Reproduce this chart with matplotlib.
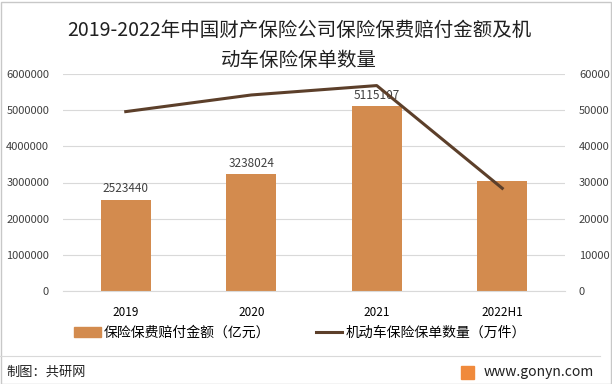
import matplotlib.pyplot as plt
from matplotlib.patches import Rectangle
from matplotlib.lines import Line2D

plt.rcParams['font.family'] = ['Noto Sans CJK SC', 'DejaVu Sans']

categories = ['2019', '2020', '2021', '2022H1']
payout = [2523440, 3238024, 5115107, 3040000]
payout_labels = ['2523440', '3238024', '5115107', '']
policies = [49600, 54200, 56800, 28400]

bar_color = '#D38B4E'
line_color = '#5C3F2A'
text_color = '#404040'

fig = plt.figure(figsize=(6.12, 3.84), dpi=100)
ax = fig.add_axes([63 / 612, 1 - 291 / 384, 502 / 612, 217 / 384])
x = list(range(len(categories)))
ax.bar(x, payout, width=0.4, color=bar_color, zorder=2)
for xi, v, lab in zip(x, payout, payout_labels):
    if lab:
        ax.text(xi, v + 120000, lab, ha='center', va='bottom', fontsize=8.5, color=text_color)
ax.set_xlim(-0.5, 3.5)
ax.set_ylim(0, 6000000)
ax.set_yticks(range(0, 6000001, 1000000))
ax.set_yticklabels([str(v) for v in range(0, 6000001, 1000000)])
ax.grid(axis='y', color='#D9D9D9', linewidth=0.8, zorder=0)
ax.set_xticks(x)
ax.set_xticklabels(categories)
for s in ['top', 'left', 'right']:
    ax.spines[s].set_visible(False)
ax.spines['bottom'].set_color('#D9D9D9')
ax.tick_params(axis='both', length=0, labelsize=8, colors=text_color)
ax.tick_params(axis='x', pad=11, labelsize=8.5, colors='#000000')
ax.tick_params(axis='y', pad=10)

ax2 = ax.twinx()
ax2.plot(x, policies, color=line_color, linewidth=2.2, zorder=3)
ax2.set_ylim(0, 60000)
ax2.set_yticks(range(0, 60001, 10000))
for s in ax2.spines.values():
    s.set_visible(False)
ax2.tick_params(axis='y', length=0, labelsize=8, colors=text_color, pad=10)

fig.text(299 / 612, 1 - 30 / 384, '2019-2022年中国财产保险公司保险保费赔付金额及机', ha='center', va='center',
         fontsize=14, color='#202020')
fig.text(299 / 612, 1 - 61 / 384, '动车保险保单数量', ha='center', va='center', fontsize=14, color='#202020')

handles = [Rectangle((0, 0), 1, 1, color=bar_color), Line2D([0], [0], color=line_color, linewidth=2.2)]
fig.legend(handles, ['保险保费赔付金额（亿元）', '机动车保险保单数量（万件）'], loc='center',
           bbox_to_anchor=(300 / 612, 1 - 333 / 384), ncol=2, frameon=False, fontsize=10,
           handlelength=1.9, handletextpad=0.2, columnspacing=3.3)

fig.add_artist(Line2D([0, 600 / 612], [1 - 356 / 384, 1 - 356 / 384], color='#D9D9D9', linewidth=0.8))
fig.text(6 / 612, 1 - 372 / 384, '制图：共研网', ha='left', va='center', fontsize=9.5, color='#202020')
fig.text(594 / 612, 1 - 372 / 384, 'www.gonyn.com', ha='right', va='center', fontsize=10, color='#202020')
fig.add_artist(Rectangle((461 / 612, 1 - 379 / 384), 13 / 612, 13 / 384, color='#F08A3C'))
fig.add_artist(Rectangle((0.5 / 612, 0.5 / 384), 610 / 612, 382 / 384, fill=False, edgecolor='#C8C8C8',
                         linewidth=1))

fig.savefig('out.png', dpi=100)
